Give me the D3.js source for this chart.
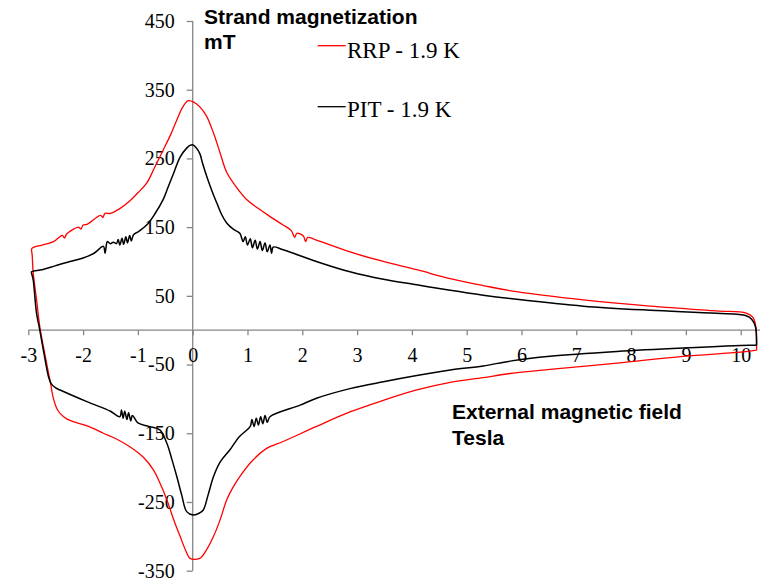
<!DOCTYPE html>
<html>
<head>
<meta charset="utf-8">
<script src="https://cdn.jsdelivr.net/npm/d3@7"></script>
<style>
  body { margin: 0; background: #fff; }
  .tick text { font-family: "Liberation Serif", "Times New Roman", serif; font-size: 20px; fill: #000; }
  .title { font-family: "Liberation Sans", Arial, sans-serif; font-size: 21px; font-weight: bold; fill: #000; }
  .legend text { font-family: "Liberation Serif", "Times New Roman", serif; font-size: 23px; fill: #000; }
</style>
</head>
<body>
<div id="chart"></div>
<script>
// Chart size
var width = 760;
var height = 583;

// Axis ticks
var xTicks = [-3, -2, -1, 0, 1, 2, 3, 4, 5, 6, 7, 8, 9, 10];
var yTicks = [-350, -250, -150, -50, 50, 150, 250, 350, 450];

// Series names
var seriesNames = ["RRP - 1.9 K", "PIT - 1.9 K"];

// RRP loop: [field (T), magnetization (mT)], upper branch from high field down
var rrpUpper = [
  [10.29, -29], [10.27, 8], [10.22, 19], [10.1, 25], [9.56, 28], [8.35, 35], [7.13, 44],
  [5.91, 56], [5.3, 65], [4.7, 75], [4.09, 88], [3.48, 100], [2.87, 114], [2.26, 131],
  [2.1, 135], [2.06, 129], [2.02, 137], [1.9, 141], [1.86, 135], [1.8, 145], [1.65, 153],
  [1.4, 166], [1.2, 177], [1.0, 189], [0.8, 208], [0.62, 230], [0.5, 258], [0.38, 287],
  [0.25, 312], [0.13, 325], [0.02, 332], [-0.08, 334], [-0.18, 325], [-0.29, 306],
  [-0.4, 285], [-0.54, 262], [-0.7, 236], [-0.84, 214], [-1.0, 200], [-1.15, 188],
  [-1.33, 177], [-1.5, 170], [-1.6, 170], [-1.64, 164], [-1.68, 167], [-1.93, 154],
  [-2.0, 153], [-2.04, 147], [-2.08, 150], [-2.3, 140], [-2.34, 134], [-2.38, 138],
  [-2.54, 129], [-2.75, 124], [-2.92, 120], [-2.94, 118]
];
// RRP lower branch, from low field up
var rrpLower = [
  [-2.93, 110], [-2.91, 83], [-2.85, 45], [-2.79, 5], [-2.7, -34], [-2.6, -75],
  [-2.54, -100], [-2.48, -114], [-2.42, -121], [-2.3, -129], [-2.18, -133], [-1.9, -140],
  [-1.63, -150], [-1.4, -158], [-1.14, -170], [-0.9, -185], [-0.72, -203], [-0.6, -222],
  [-0.47, -247], [-0.35, -275], [-0.23, -300], [-0.12, -322], [-0.05, -332], [0.13, -332],
  [0.25, -320], [0.38, -300], [0.5, -276], [0.62, -247], [0.74, -228], [0.86, -213],
  [1.1, -189], [1.35, -172], [1.65, -162], [2.26, -140], [2.87, -119], [3.48, -102],
  [4.09, -87], [4.7, -76], [5.3, -69], [5.79, -63], [6.52, -57], [7.74, -48], [8.95, -38],
  [10.0, -32], [10.29, -29]
];

// PIT loop
var pitUpper = [
  [10.29, -22], [10.27, 5], [10.2, 16], [10.1, 21], [9.56, 24.6], [8.35, 29], [7.13, 35],
  [5.91, 45], [5.3, 51], [4.7, 58], [4.09, 66], [3.48, 74], [2.87, 85], [2.26, 100],
  [1.65, 117], [1.47, 121], [1.44, 112], [1.41, 124], [1.36, 114], [1.32, 127], [1.27, 116],
  [1.23, 129], [1.18, 118], [1.14, 131], [1.09, 120], [1.05, 133], [1.0, 124], [0.96, 136],
  [0.92, 129], [0.86, 141], [0.74, 147], [0.62, 156], [0.53, 168], [0.44, 185], [0.35, 203],
  [0.26, 223], [0.18, 243], [0.13, 257], [0.06, 266], [0, 270], [-0.05, 269], [-0.11, 265],
  [-0.23, 252], [-0.35, 228], [-0.45, 208], [-0.54, 190], [-0.7, 168], [-0.84, 153],
  [-1.0, 143], [-1.08, 139], [-1.12, 130], [-1.15, 138], [-1.19, 127], [-1.22, 136],
  [-1.26, 125], [-1.29, 134], [-1.33, 124], [-1.36, 132], [-1.39, 126], [-1.45, 128],
  [-1.5, 126], [-1.56, 129], [-1.58, 121], [-1.6, 112], [-1.63, 122], [-1.8, 112],
  [-2.0, 105], [-2.24, 100], [-2.5, 94], [-2.75, 88], [-2.94, 85]
];
var pitLower = [
  [-2.93, 80], [-2.91, 73], [-2.85, 25], [-2.79, 0], [-2.7, -40], [-2.63, -68],
  [-2.58, -78], [-2.5, -84], [-2.42, -87], [-1.93, -104], [-1.5, -118], [-1.33, -126],
  [-1.3, -116], [-1.27, -128], [-1.24, -118], [-1.2, -130], [-1.17, -120], [-1.13, -132],
  [-1.1, -124], [-1.0, -135], [-0.8, -140], [-0.6, -145], [-0.47, -165], [-0.38, -188],
  [-0.29, -213], [-0.2, -240], [-0.11, -264], [0.01, -269], [0.1, -267], [0.19, -262],
  [0.28, -240], [0.38, -213], [0.5, -192], [0.68, -174], [0.85, -155], [1.05, -140],
  [1.08, -130], [1.12, -140], [1.16, -128], [1.2, -138], [1.24, -126], [1.28, -136],
  [1.32, -124], [1.36, -134], [1.41, -126], [1.96, -109], [2.26, -99], [2.87, -85],
  [3.48, -75], [4.09, -66], [4.7, -58], [5.3, -52], [5.79, -45], [6.52, -38], [7.74, -31],
  [8.95, -26], [10.17, -22], [10.29, -22]
];

var colors = { rrp: "#ff0000", pit: "#000000", axis: "#868686" };

var svg = d3.select("#chart").append("svg")
    .attr("width", width)
    .attr("height", height);

var x = d3.scaleLinear().domain([-3, 10.4]).range([28.3, 762.6]);
var y = d3.scaleLinear().domain([-350, 450]).range([570.7, 21]);

// plain hyphen for negatives, like the original
var plain = function(d) { return String(d); };

// Y axis sits on field = 0
var yAxis = svg.append("g")
    .attr("transform", "translate(" + x(0) + ",0)")
    .call(d3.axisLeft(y).tickValues(yTicks).tickFormat(plain)
      .tickSize(6).tickPadding(12).tickSizeOuter(0));

// X axis sits on magnetization = 0
var xAxis = svg.append("g")
    .attr("transform", "translate(0," + y(0) + ")")
    .call(d3.axisBottom(x).tickValues(xTicks).tickFormat(plain)
      .tickSize(5).tickPadding(13).tickSizeOuter(0));

[xAxis, yAxis].forEach(function(a) {
  a.selectAll("path, line").attr("stroke", colors.axis).attr("stroke-width", 1.3);
});
yAxis.select(".domain").attr("d", "M0," + y(450) + "V" + y(-350));
xAxis.select(".domain").attr("d", "M" + x(-3) + ",0H" + width);

var line = d3.line()
    .curve(d3.curveCatmullRom.alpha(0.5))
    .x(function(d) { return x(d[0]); })
    .y(function(d) { return y(d[1]); });

svg.append("path")
    .datum(rrpUpper.concat(rrpLower))
    .attr("d", line)
    .attr("fill", "none")
    .attr("stroke", colors.rrp)
    .attr("stroke-width", 1.3)
    .attr("stroke-linejoin", "round");

svg.append("path")
    .datum(pitUpper.concat(pitLower))
    .attr("d", line)
    .attr("fill", "none")
    .attr("stroke", colors.pit)
    .attr("stroke-width", 1.5)
    .attr("stroke-linejoin", "round");

// Axis titles
var yTitle = svg.append("text").attr("class", "title").attr("x", 204).attr("y", 24);
yTitle.append("tspan").text("Strand magnetization");
yTitle.append("tspan").attr("x", 204).attr("y", 49).text("mT");

var xTitle = svg.append("text").attr("class", "title").attr("x", 452).attr("y", 419);
xTitle.append("tspan").text("External magnetic field");
xTitle.append("tspan").attr("x", 452).attr("y", 445).text("Tesla");

// Legend
var legend = svg.append("g").attr("class", "legend");
var legendRows = [
  { name: seriesNames[0], color: colors.rrp, ly: 45.7, ty: 58 },
  { name: seriesNames[1], color: colors.pit, ly: 106.7, ty: 116.7 }
];
var lg = legend.selectAll("g").data(legendRows).enter().append("g");
lg.append("line")
    .attr("x1", 317.7).attr("x2", 345.7)
    .attr("y1", function(d) { return d.ly; })
    .attr("y2", function(d) { return d.ly; })
    .attr("stroke", function(d) { return d.color; })
    .attr("stroke-width", 1.3);
lg.append("text")
    .attr("x", 347)
    .attr("y", function(d) { return d.ty; })
    .text(function(d) { return d.name; });
</script>
</body>
</html>
